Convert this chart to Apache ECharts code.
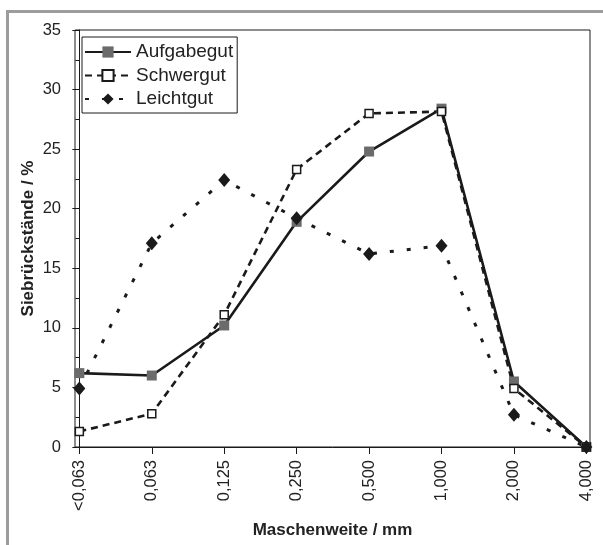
<!DOCTYPE html>
<html>
<head>
<meta charset="utf-8">
<script src="https://cdn.jsdelivr.net/npm/echarts@6/dist/echarts.min.js"></script>
<style>
  html, body { margin: 0; padding: 0; background: #fff; }
  #wrap { position: relative; width: 603px; height: 545px; }
  #chart { position: absolute; left: 0; top: 0; width: 603px; height: 545px; }
  #frame { position: absolute; left: 6px; top: 10px; width: 597px; height: 535px;
           border-top: 3px solid #9c9c9c; border-left: 3px solid #9c9c9c; pointer-events: none; }
</style>
</head>
<body>
<div id="wrap">
  <div id="chart"></div>
  <div id="frame"></div>
</div>
<script>
const categories = ['<0,063', '0,063', '0,125', '0,250', '0,500', '1,000', '2,000', '4,000'];
const aufgabegut = [6.2, 6.0, 10.2, 18.9, 24.8, 28.4, 5.5, 0];
const schwergut  = [1.3, 2.8, 11.1, 23.3, 28.0, 28.15, 4.9, 0];
const leichtgut  = [4.9, 17.1, 22.4, 19.2, 16.2, 16.9, 2.7, 0];
const seriesNames = ['Aufgabegut', 'Schwergut', 'Leichtgut'];

const FONT = 'Liberation Sans, Arial, sans-serif';
const INK = '#1a1a1a';
const idx = categories.map((c, i) => i);
const pairs = arr => arr.map((v, i) => [i, v]);

const chart = echarts.init(document.getElementById('chart'), null, { renderer: 'canvas' });
chart.setOption({
  backgroundColor: '#fff',
  animation: false,
  grid: { left: 75, right: 13, top: 30, bottom: 98, show: true, borderColor: INK, borderWidth: 1 },
  legend: {
    left: 82, top: 37, orient: 'vertical',
    itemWidth: 46, itemHeight: 14, itemGap: 3.5,
    padding: [5, 4, 4, 2],
    borderColor: INK, borderWidth: 1, backgroundColor: '#fff',
    textStyle: { fontFamily: FONT, fontSize: 19, color: '#222', lineHeight: 20 },
    data: seriesNames
  },
  xAxis: {
    type: 'value', min: -0.06, max: 7.05,
    name: 'Maschenweite / mm', nameLocation: 'middle', nameGap: 75, nameMoveOverlap: false,
    nameTextStyle: { fontFamily: FONT, fontSize: 17, fontWeight: 'bold', color: '#222' },
    axisLine: { show: true, onZero: false, lineStyle: { color: INK, width: 1 } },
    axisTick: { show: true, inside: false, length: 7, customValues: idx, lineStyle: { color: INK, width: 1 } },
    axisLabel: { customValues: idx, rotate: 90, margin: 13, fontFamily: FONT, fontSize: 16.5, color: '#222',
                 formatter: v => categories[Math.round(v)] },
    splitLine: { show: false }
  },
  yAxis: {
    type: 'value', min: 0, max: 35, interval: 5,
    name: 'Siebrückstände / %', nameLocation: 'middle', nameGap: 38, nameMoveOverlap: false,
    nameTextStyle: { fontFamily: FONT, fontSize: 17, fontWeight: 'bold', color: '#222' },
    axisLine: { show: true, lineStyle: { color: INK, width: 1 } },
    axisTick: { show: true, inside: false, length: 7, lineStyle: { color: INK, width: 1 } },
    minorTick: { show: true, splitNumber: 2, length: 4, lineStyle: { color: INK, width: 1 } },
    axisLabel: { margin: 14, fontFamily: FONT, fontSize: 16.5, color: '#222' },
    splitLine: { show: false }
  },
  series: [
    {
      name: seriesNames[0], type: 'line', data: pairs(aufgabegut),
      lineStyle: { color: INK, width: 2.6, type: 'solid' },
      symbol: 'rect', symbolSize: 10,
      itemStyle: { color: '#6b6b6b', borderWidth: 0 }
    },
    {
      name: seriesNames[1], type: 'line', data: pairs(schwergut),
      lineStyle: { color: INK, width: 2.6, type: [7, 5] },
      symbol: 'rect', symbolSize: 8,
      itemStyle: { color: '#fff', borderColor: INK, borderWidth: 1.5 }
    },
    {
      name: seriesNames[2], type: 'line', data: pairs(leichtgut),
      lineStyle: { color: INK, width: 3, type: [4, 13], cap: 'butt' },
      symbol: 'diamond', symbolSize: [12, 14],
      itemStyle: { color: INK, borderWidth: 0 }
    }
  ]
});
</script>
</body>
</html>
